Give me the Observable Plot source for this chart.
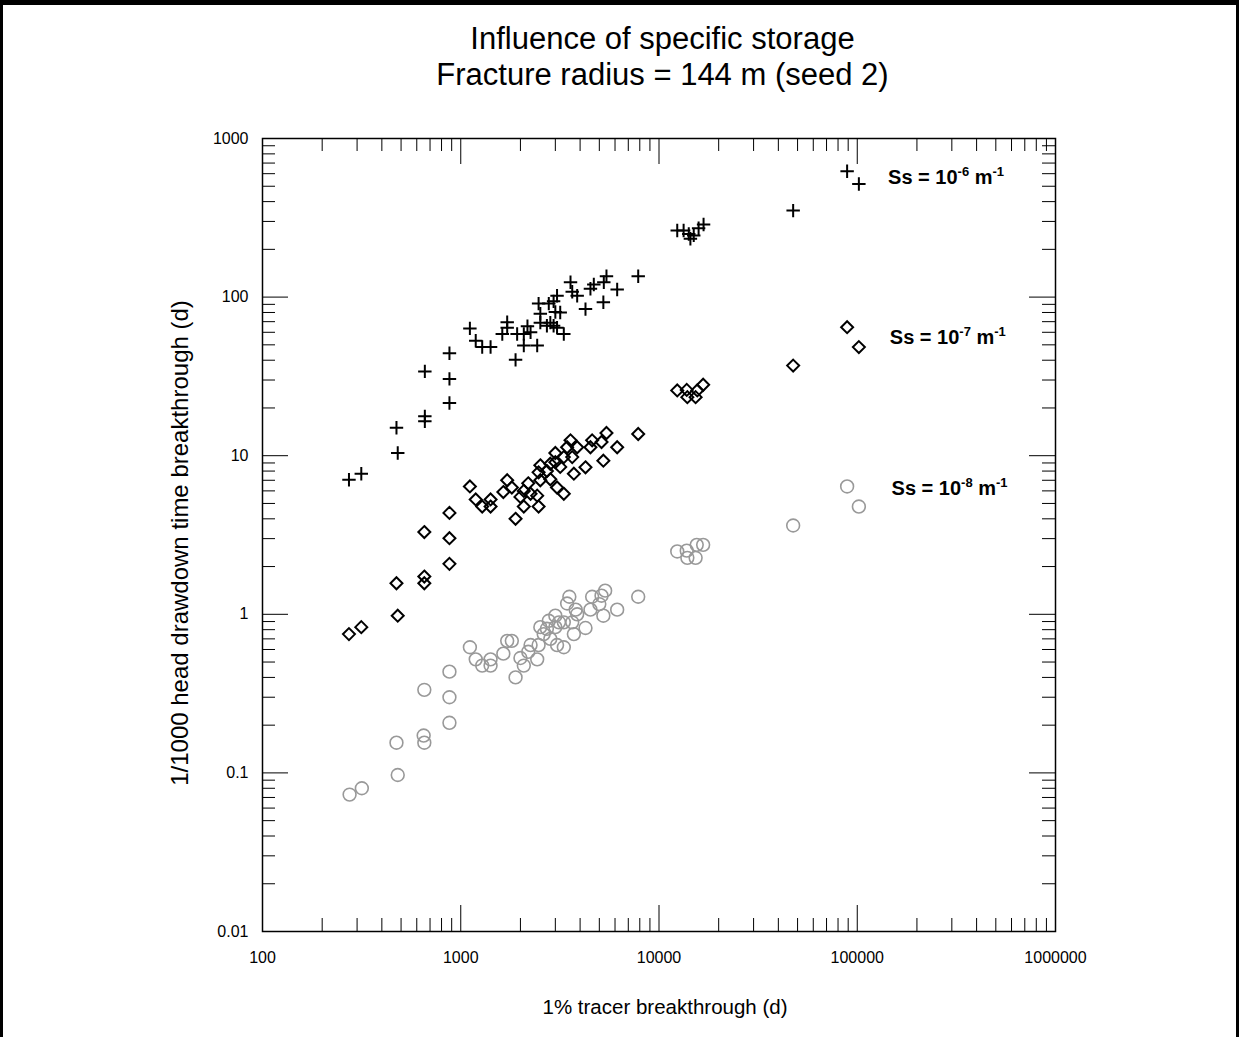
<!DOCTYPE html>
<html><head><meta charset="utf-8">
<script src="https://cdn.jsdelivr.net/npm/d3@7"></script>
<script src="https://cdn.jsdelivr.net/npm/@observablehq/plot@0.6"></script>
<style>
html,body{margin:0;padding:0;background:#fff;}
#wrap{position:relative;width:1239px;height:1037px;overflow:hidden;font-family:"Liberation Sans",Arial,sans-serif;background:#fff}
#border{position:absolute;left:0;top:0;width:1239px;height:1037px;box-sizing:border-box;border-top:5px solid #000;border-left:3px solid #000;border-right:3px solid #000;pointer-events:none;z-index:2}
#title{position:absolute;left:0;width:1239px;top:21px;text-align:center;font-size:31px;line-height:36px;color:#000;z-index:1;padding-left:86px;box-sizing:border-box}
#chart{position:absolute;left:0;top:0}
</style></head>
<body>
<div id="wrap">
  <div id="title"><div>Influence of specific storage</div><div>Fracture radius = 144 m (seed 2)</div></div>
  <div id="chart"></div>
  <div id="border"></div>
</div>
<script>
// Ss = 1e-6 m-1 (plus)
const plusX = [273,315,474,481,659,659,659,877,877,877,1112,1190,1283,1414,1620,1715,1715,1890,1925,2080,2080,2170,2250,2430,2470,2520,2520,2720,2780,2830,2940,2940,3000,3060,3060,3175,3310,3578,3650,3866,4258,4510,4690,5240,5268,5433,6152,7855,12360,13310,14130,14400,14970,15840,16780,47500,88900,101900];
const plusY = [7.05,7.7,15,10.4,34,17.7,16.5,44.3,30.5,21.5,63.5,53,48.4,48.4,58.6,69.5,64,40.2,58.6,58.6,49.5,65.6,60,49.5,91,78.5,69,66,91,69,94,66,80.5,102,64,80,58.6,124,108,102,84,113,120,92.7,124,135.5,111.7,135.5,263,263,250,233,245,272,287,351,622,517];
// Ss = 1e-7 m-1 (diamond)
const diamondX = [273,315,474,481,655,655,655,877,877,877,1112,1190,1283,1414,1414,1640,1715,1810,1890,2000,2080,2080,2190,2250,2430,2470,2470,2520,2520,2720,2830,2830,3000,3000,3060,3175,3310,3310,3440,3578,3650,3720,3866,4258,4510,4600,5130,5240,5433,6152,7855,12360,13800,13900,15300,15600,16700,47500,88900,101900];
const diamondY = [0.75,0.83,1.57,0.98,3.3,1.73,1.57,4.36,3.02,2.08,6.4,5.3,4.78,5.3,4.78,5.9,7.0,6.3,4.0,5.5,6.0,4.78,6.7,5.75,5.6,7.85,4.78,8.7,7.0,8.0,8.9,7.1,10.4,9.1,6.3,8.5,9.8,5.75,11.3,12.5,9.8,7.7,11.3,8.45,11.3,12.5,12.2,9.3,13.9,11.3,13.7,25.8,26,23.4,23.4,25.8,28,37,64.6,48.4];
// Ss = 1e-8 m-1 (circle)
const circleX = [275,317,474,481,650,655,655,877,877,877,1112,1190,1283,1414,1414,1640,1715,1810,1890,2000,2080,2190,2250,2430,2470,2520,2620,2720,2780,2830,3000,3000,3060,3130,3310,3310,3440,3530,3650,3720,3800,3866,4258,4510,4600,5000,5130,5240,5350,6152,7855,12360,13800,13900,15300,15500,16700,47500,88900,101900];
const circleY = [0.073,0.080,0.155,0.097,0.172,0.334,0.155,0.435,0.30,0.207,0.62,0.52,0.475,0.52,0.475,0.565,0.68,0.68,0.40,0.53,0.475,0.58,0.64,0.52,0.64,0.83,0.75,0.81,0.91,0.70,0.98,0.83,0.64,0.89,0.89,0.62,1.17,1.29,0.89,0.75,1.07,1.0,0.82,1.07,1.29,1.16,1.31,0.98,1.41,1.07,1.29,2.49,2.52,2.27,2.27,2.74,2.74,3.63,6.4,4.78];

// series labels
const labelExp = ["-6","-7","-8"];
const labelX = [143000,146000,149000];
const labelY = [570,55.8,6.2];

// axes
const xTicks = [100,1000,10000,100000,1000000];
const xTickLabels = ["100","1000","10000","100000","1000000"];
const yTicks = [0.01,0.1,1,10,100,1000];
const yTickLabels = ["0.01","0.1","1","10","100","1000"];
const xTitle = "1% tracer breakthrough (d)";
const yTitle = "1/1000 head drawdown time breakthrough (d)";

const minorOf = majors => majors.slice(0,-1).flatMap(m => d3.range(2,10).map(k => m*k));
const xMinor = minorOf(xTicks);
const yMinor = minorOf(yTicks);

const W = 1239, H = 1037, mt = 138, mb = 106, ml = 262, mr = 184;
const fw = W - ml - mr, fh = H - mt - mb;
const majorLen = 26, minorLen = 13;

const pts = (xs, ys) => xs.map((x,i) => ({x, y: ys[i]}));
const labels = labelExp.map((e,i) => ({x: labelX[i], y: labelY[i], e}));

const chart = Plot.plot({
  width: W, height: H,
  marginTop: mt, marginBottom: mb, marginLeft: ml, marginRight: mr,
  style: {fontFamily: '"Liberation Sans", Arial, sans-serif', fontSize: "16px", background: "transparent", color: "#000"},
  x: {type: "log", domain: [100, 1000000]},
  y: {type: "log", domain: [0.01, 1000]},
  marks: [
    Plot.axisX({ticks: xTicks, tickSize: 0, tickPadding: 20, fontSize: 16, label: null,
      tickFormat: d => xTickLabels[xTicks.indexOf(d)]}),
    Plot.axisY({ticks: yTicks, tickSize: 0, tickPadding: 14, fontSize: 16, label: null,
      tickFormat: d => yTickLabels[yTicks.indexOf(d)]}),
    // ticks inside frame
    Plot.ruleX(xTicks, {insetTop: fh - majorLen, stroke: "#000", strokeWidth: 1}),
    Plot.ruleX(xTicks, {insetBottom: fh - majorLen, stroke: "#000", strokeWidth: 1}),
    Plot.ruleX(xMinor, {insetTop: fh - minorLen, stroke: "#000", strokeWidth: 1}),
    Plot.ruleX(xMinor, {insetBottom: fh - minorLen, stroke: "#000", strokeWidth: 1}),
    Plot.ruleY(yTicks, {insetRight: fw - majorLen, stroke: "#000", strokeWidth: 1}),
    Plot.ruleY(yTicks, {insetLeft: fw - majorLen, stroke: "#000", strokeWidth: 1}),
    Plot.ruleY(yMinor, {insetRight: fw - minorLen, stroke: "#000", strokeWidth: 1}),
    Plot.ruleY(yMinor, {insetLeft: fw - minorLen, stroke: "#000", strokeWidth: 1}),
    Plot.frame({stroke: "#000", strokeWidth: 1.5}),
    Plot.dot(pts(circleX, circleY), {x: "x", y: "y", symbol: "circle", r: 6.4, stroke: "#999", strokeWidth: 1.6, fill: "none"}),
    Plot.dot(pts(diamondX, diamondY), {x: "x", y: "y", symbol: "diamond2", r: 5.4, stroke: "#000", strokeWidth: 2, fill: "none"}),
    Plot.dot(pts(plusX, plusY), {x: "x", y: "y", symbol: "plus", r: 4.4, stroke: "#000", strokeWidth: 2}),
    Plot.text(labels, {x: "x", y: "y", text: d => "Ss = 10" + d.e + " m-1", textAnchor: "start",
      fontWeight: "bold", fontSize: 20, fill: "#000", className: "ss-label"}),
    Plot.text([xTitle], {frameAnchor: "bottom", dx: 6, dy: 76, textAnchor: "middle", lineAnchor: "middle", fontSize: 20.5, fill: "#000"}),
    Plot.text([yTitle], {frameAnchor: "left", dx: -82, dy: 8, textAnchor: "middle", lineAnchor: "middle", rotate: -90, fontSize: 24, fill: "#000"})
  ]
});

// superscripts in series labels
d3.select(chart).selectAll("g.ss-label text").each(function(_, i) {
  const t = d3.select(this);
  t.text(null);
  t.append("tspan").text("Ss = 10");
  t.append("tspan").attr("dy", -8).attr("font-size", 13).text(labels[i].e);
  t.append("tspan").attr("dy", 8).text(" m");
  t.append("tspan").attr("dy", -8).attr("font-size", 13).text("-1");
});

document.getElementById("chart").appendChild(chart);
</script>
</body></html>
